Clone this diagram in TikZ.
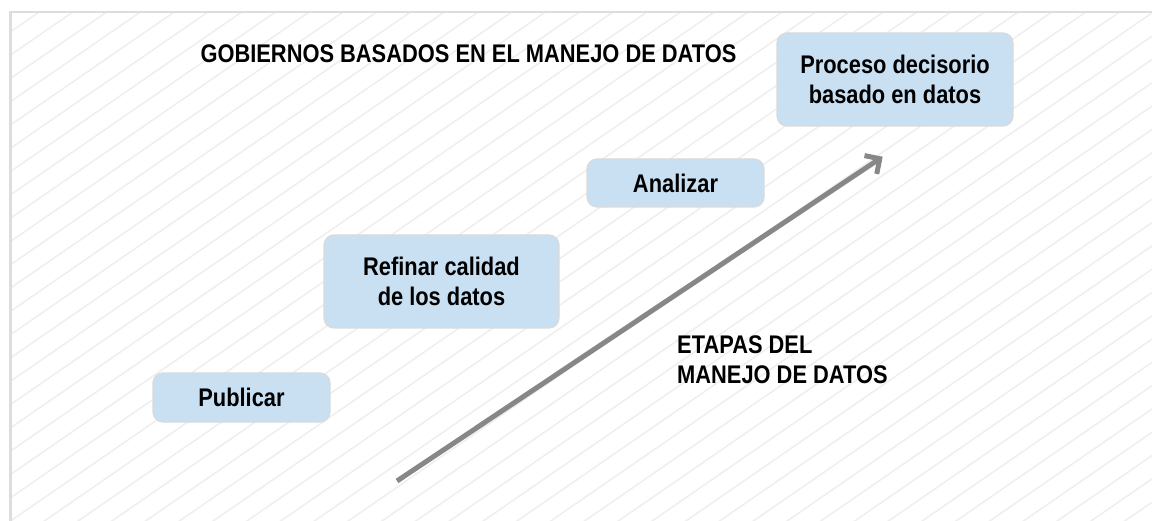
\documentclass[tikz,border=0pt]{standalone}
\usepackage{fontspec}
\setmainfont[FakeStretch=0.857]{Liberation Sans}
\usepackage{tikz}
\usetikzlibrary{arrows.meta,positioning}
\definecolor{cajaazul}{HTML}{C9E0F3}
\definecolor{bordecaja}{HTML}{DADADA}
\definecolor{rayagris}{HTML}{EFEFEF}
\definecolor{marcogris}{HTML}{DDDDDD}
\definecolor{flechagris}{HTML}{878787}
\tikzset{
  etapa/.style = {rectangle, rounded corners=10pt, draw=bordecaja,
    line width=1.2pt, fill=cajaazul, align=center, inner sep=0pt,
    font=\bfseries\fontsize{25.5}{30}\selectfont},% caja de etapa
  rotulo/.style = {inner sep=0pt, align=left,
    font=\bfseries\fontsize{25.5}{30}\selectfont},% texto suelto
  raya/.style = {draw=rayagris, line width=1.6pt},% fondo rayado
  flecha/.style = {draw=flechagris, line width=5pt,
    -{Straight Barb[length=11pt,width=22pt]}}% flecha de etapas
}

\begin{document}
\begin{tikzpicture}[x=1pt,y=-1pt]
        \useasboundingbox (0,0) rectangle (1152,521);
        % fondo rayado y marco
        \begin{scope}
            \clip (11.5,13.5) rectangle (1152,521);
            \foreach \m in {0,...,56}
                \draw[raya] (0,15.7+23.3*\m) -- (1152,15.7+23.3*\m-795);
        \end{scope}
        \draw[marcogris, line width=2.4pt] (10.3,12.2) rectangle (1180,560);
        % etapas
        \node [rotulo] (titulo) at (468.5,53.5)
            {GOBIERNOS BASADOS EN EL MANEJO DE DATOS};
        \node [etapa, minimum width=177pt, minimum height=49pt]
            (publicar) at (241.5,397.5) {Publicar};
        \node [etapa, minimum width=235pt, minimum height=93pt]
            (refinar) at (441.5,281.5) {Refinar calidad\\de los datos};
        \node [etapa, minimum width=177pt, minimum height=48pt]
            (analizar) at (675.5,183) {Analizar};
        \node [etapa, minimum width=236pt, minimum height=93pt]
            (proceso) at (895,79.5) {Proceso decisorio\\basado en datos};
        \node [rotulo, anchor=north west] (manejo) at (677,335)
            {ETAPAS DEL\\MANEJO DE DATOS};
        % flecha
        \coordinate (inicio) at (397,481);
        \coordinate (punta) at (882.7,156.7);
        \draw [flecha] (inicio) -- (punta);
\end{tikzpicture}
\end{document}
